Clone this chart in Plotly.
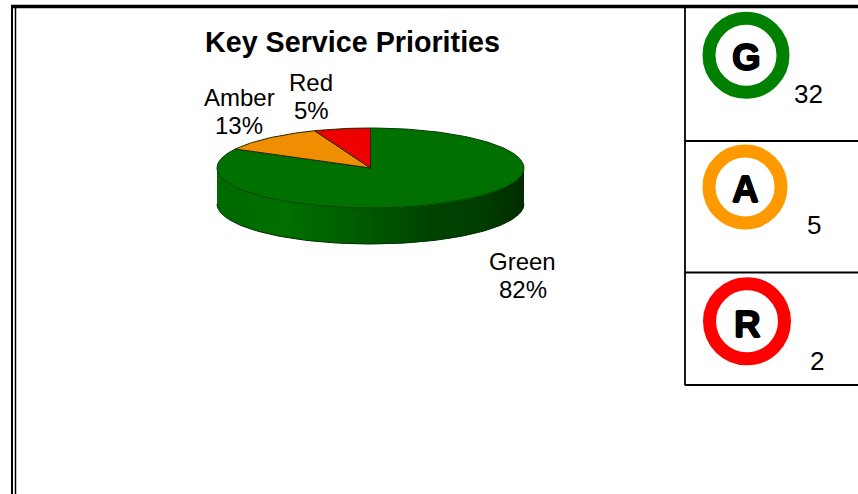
import math
import plotly.graph_objects as go

# ---------- data ----------
categories = ["Green", "Amber", "Red"]
counts = [32, 5, 2]
percent_labels = ["82%", "13%", "5%"]
badge_letters = ["G", "A", "R"]
title_text = "Key Service Priorities"

# ---------- style ----------
FONT = "Liberation Sans"
slice_colors = ["#007000", "#EE8E00", "#EE0000"]
ring_colors = ["#008000", "#FF9900", "#FF0000"]
W, H = 858, 494
CX, CY, RX, RY, DEPTH = 370.5, 168, 153.5, 40, 36
side_stops = [(0.0, (0, 104, 0)), (0.22, (0, 112, 0)), (0.5, (0, 88, 0)),
              (0.68, (0, 68, 0)), (0.85, (0, 62, 0)), (1.0, (0, 44, 0))]


def side_color(f):
    for (a, ca), (b, cb) in zip(side_stops, side_stops[1:]):
        if f <= b:
            k = (f - a) / (b - a)
            return "rgb(%d,%d,%d)" % tuple(round(p + (q - p) * k) for p, q in zip(ca, cb))
    return "rgb(0,44,0)"


def view(a):
    # slight perspective distortion of the 3-D view
    return a + math.radians(3) * math.sin(4 * a)


def rim(a):
    # a is clockwise from 12 o'clock
    return CX + RX * math.sin(a), CY - RY * math.cos(a)


fig = go.Figure()

# extruded side, in vertical strips so the shading varies from left to right
N = 90
for i in range(N):
    x0 = -1 + 2 * i / N
    x1 = min(1, -1 + 2 * (i + 1.3) / N)
    t0, t1 = math.acos(x0), math.acos(x1)
    xs, ys = [], []
    for s in [j / 4 for j in range(5)]:
        t = t0 + (t1 - t0) * s
        xs.append(CX + RX * math.cos(t))
        ys.append(CY + RY * math.sin(t))
    for s in [j / 4 for j in range(4, -1, -1)]:
        t = t0 + (t1 - t0) * s
        xs.append(CX + RX * math.cos(t))
        ys.append(CY + DEPTH + RY * math.sin(t))
    fig.add_trace(go.Scatter(x=xs, y=ys, mode="lines", fill="toself",
                             fillcolor=side_color((i + 0.5) / N),
                             line=dict(width=0), hoverinfo="skip", showlegend=False))

# wall edges and bottom outline
ts = [math.pi * j / 120 for j in range(121)]
fig.add_trace(go.Scatter(x=[CX + RX * math.cos(t) for t in ts],
                         y=[CY + DEPTH + RY * math.sin(t) for t in ts],
                         mode="lines", line=dict(color="#003000", width=1),
                         hoverinfo="skip", showlegend=False))

# top face: slices run clockwise from 12 o'clock, sized by the counts
total = sum(counts)
start = 0.0
for name, value, color in zip(categories, counts, slice_colors):
    end = start + 2 * math.pi * value / total
    n = max(8, int(240 * value / total))
    pts = [rim(view(start + (end - start) * j / n)) for j in range(n + 1)]
    xs = [CX] + [p[0] for p in pts] + [CX]
    ys = [CY] + [p[1] for p in pts] + [CY]
    fig.add_trace(go.Scatter(x=xs, y=ys, mode="lines", fill="toself", fillcolor=color,
                             line=dict(color="#1c2a00" if name != "Green" else "#003a00", width=1),
                             name=name, hoverinfo="skip", showlegend=False))
    start = end

shapes = []


def line(x0, y0, x1, y1, width):
    shapes.append(dict(type="line", xref="x", yref="y", x0=x0, y0=y0, x1=x1, y1=y1,
                       line=dict(color="#000000", width=width)))


# page frame
line(11, 6.5, W, 6.5, 3.5)
line(12, 5, 12, H, 2)
line(15.5, 8, 15.5, H, 1.5)
# key table
line(685, 8, 685, 385.5, 1.8)
line(685, 141, W, 141, 1.8)
line(685, 272.5, W, 272.5, 1.8)
line(685, 385, W, 385, 1.8)

# rings
ring_geo = [(746, 55.3, 37), (745, 187, 36), (747, 321.3, 37.5)]
for (x, y, r), c in zip(ring_geo, ring_colors):
    shapes.append(dict(type="circle", xref="x", yref="y", x0=x - r, x1=x + r, y0=y - r, y1=y + r,
                       line=dict(color=c, width=13), fillcolor="rgba(0,0,0,0)"))

annotations = []


def text(x, y, s, size, bold=False, shadow=None):
    font = dict(family=FONT, size=size, color="#000000")
    if shadow:
        font["shadow"] = shadow
    annotations.append(dict(x=x, y=y, xref="x", yref="y", text=f"<b>{s}</b>" if bold else s,
                            showarrow=False, xanchor="center", yanchor="middle", font=font))


text(352, 42, title_text, 28.7, True)

label_pos = [(522.5, 261, 289), (239, 97, 125), (311, 82, 110)]
for name, pct, (x, y1, y2) in zip(categories, percent_labels, label_pos):
    text(x, y1, name, 24)
    text(x, y2, pct, 24)

badge_pos = [(746, 57), (745, 189), (747, 324)]
for letter, (x, y) in zip(badge_letters, badge_pos):
    text(x, y, letter, 37, True, shadow="0.7px 0 0 #000, -0.7px 0 0 #000, 0 0.7px 0 #000, 0 -0.7px 0 #000")

count_pos = [(808, 94), (814, 225), (817, 361)]
for value, (x, y) in zip(counts, count_pos):
    text(x, y, str(value), 26)

fig.update_layout(
    width=W, height=H, margin=dict(l=0, r=0, t=0, b=0, pad=0),
    paper_bgcolor="#FFFFFF", plot_bgcolor="#FFFFFF", showlegend=False,
    xaxis=dict(range=[0, W], visible=False, fixedrange=True),
    yaxis=dict(range=[H, 0], visible=False, fixedrange=True),
    shapes=shapes, annotations=annotations,
)
fig.write_html("out.html", config={"displayModeBar": False},
               post_script="document.body.style.margin='0';document.body.style.overflow='hidden';")
